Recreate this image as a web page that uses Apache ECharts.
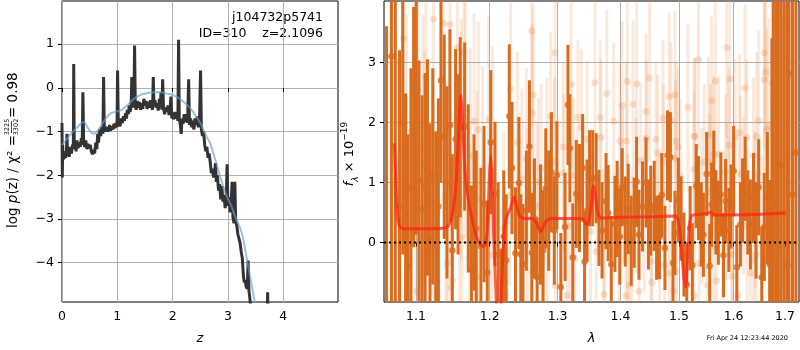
<!DOCTYPE html>
<html>
<head>
<meta charset="utf-8">
<script src="https://cdn.jsdelivr.net/npm/echarts@6/dist/echarts.min.js"></script>
<style>
  html, body { margin: 0; padding: 0; background: #fff; }
  #chart { width: 800px; height: 350px; }
</style>
</head>
<body>
<div id="chart"></div>
<script>
// ---- left panel: log p(z) ----
const pzCurve = [
  [0.000,-0.80],[0.006,-2.05],[0.012,-1.30],[0.020,-1.65],[0.030,-1.45],[0.040,-1.62],[0.050,-1.50],[0.065,-1.60],
  [0.080,-1.45],[0.090,-1.05],[0.100,-1.55],[0.115,-1.40],[0.130,-1.58],[0.150,-1.35],[0.170,-1.50],[0.190,-1.30],
  [0.205,-1.40],[0.212,0.55],[0.222,-1.35],[0.240,-1.25],[0.255,-1.45],[0.270,-1.20],[0.290,-1.38],[0.310,-1.25],
  [0.330,-1.35],[0.350,-1.15],[0.365,-1.30],[0.378,-0.10],[0.392,-1.25],[0.410,-1.35],[0.430,-1.20],[0.450,-1.40],
  [0.470,-1.28],[0.490,-1.38],[0.510,-1.30],[0.530,-1.45],[0.550,-1.52],[0.570,-1.42],[0.590,-1.50],[0.610,-1.25],
  [0.630,-1.40],[0.645,-1.05],[0.660,-1.25],[0.680,-0.95],[0.700,-1.10],[0.720,-0.90],[0.740,-1.05],[0.752,0.25],
  [0.765,-1.00],[0.785,-0.88],[0.800,-1.00],[0.820,-0.90],[0.840,-1.00],[0.860,-0.85],[0.880,-0.98],[0.900,-0.88],
  [0.920,-0.95],[0.940,-0.82],[0.960,-0.92],[0.980,-0.80],[0.995,-0.90],[1.005,0.40],[1.018,-0.85],[1.035,-0.78],
  [1.050,-0.88],[1.070,-0.70],[1.090,-0.80],[1.110,-0.65],[1.130,-0.75],[1.150,-0.58],[1.165,-0.70],[1.180,-0.50],
  [1.200,-0.60],[1.215,-0.40],[1.230,-0.55],[1.250,-0.42],[1.262,0.25],[1.275,-0.40],[1.290,-0.20],[1.300,-0.45],
  [1.312,0.97],[1.325,-0.35],[1.340,-0.50],[1.360,-0.30],[1.380,-0.45],[1.400,-0.32],[1.420,-0.50],[1.440,-0.35],
  [1.460,-0.48],[1.480,-0.25],[1.500,-0.40],[1.520,-0.30],[1.540,-0.48],[1.560,-0.32],[1.580,-0.45],[1.600,-0.28],
  [1.620,-0.42],[1.638,-0.50],[1.650,0.25],[1.662,-0.38],[1.680,-0.28],[1.700,-0.45],[1.720,-0.35],[1.740,-0.52],
  [1.760,-0.25],[1.775,-0.45],[1.790,-0.10],[1.805,-0.50],[1.820,0.20],[1.835,-0.45],[1.855,-0.60],[1.875,-0.45],
  [1.895,-0.55],[1.915,-0.40],[1.935,-0.62],[1.955,-0.50],[1.970,-0.20],[1.985,-0.70],[2.000,-0.58],[2.020,-0.72],
  [2.040,-0.55],[2.060,-0.70],[2.080,-0.60],[2.095,-0.75],[2.108,1.10],[2.120,-0.70],[2.140,-0.85],[2.155,-1.05],
  [2.170,-0.70],[2.190,-0.82],[2.210,-0.60],[2.230,-0.78],[2.250,-0.60],[2.270,-0.80],[2.290,0.20],[2.305,-0.85],
  [2.325,-0.70],[2.345,-0.90],[2.365,-0.75],[2.385,-0.95],[2.405,-0.70],[2.425,-0.85],[2.445,-0.65],[2.465,-0.90],
  [2.485,-0.80],[2.505,0.40],[2.520,-0.95],[2.540,-1.10],[2.560,-1.00],[2.580,-1.30],[2.600,-1.45],[2.620,-1.35],
  [2.640,-1.60],[2.660,-1.50],[2.680,-1.70],[2.700,-1.95],[2.720,-1.85],[2.740,-2.05],[2.760,-1.95],[2.775,-1.72],
  [2.790,-2.15],[2.810,-2.00],[2.830,-2.35],[2.850,-2.20],[2.870,-2.55],[2.890,-2.25],[2.910,-2.60],[2.930,-2.45],
  [2.950,-2.75],[2.970,-2.55],[2.985,-1.75],[3.000,-2.70],[3.020,-2.50],[3.040,-2.85],[3.060,-2.60],[3.075,-2.15],
  [3.090,-2.95],[3.110,-3.10],[3.125,-2.15],[3.140,-3.05],[3.160,-3.15],[3.180,-3.35],[3.200,-3.45],[3.220,-3.55],
  [3.240,-3.75],[3.260,-3.90],[3.280,-4.30],[3.295,-4.45],[3.310,-4.40],[3.330,-4.55],[3.350,-4.60],[3.365,-3.95],
  [3.380,-4.65],[3.395,-4.80],[3.410,-5.00],[3.500,null],[3.712,-5.00],[3.718,-4.68],[3.724,-5.00]
];
const pzSmooth = [
  [0,-1.31],[0.1,-1.15],[0.2,-1.0],[0.3,-0.87],[0.39,-0.78],[0.47,-0.92],[0.57,-1.05],[0.63,-1.0],[0.69,-0.89],
  [0.78,-0.72],[0.87,-0.59],[0.95,-0.55],[1.05,-0.52],[1.15,-0.43],[1.3,-0.25],[1.42,-0.16],[1.54,-0.12],
  [1.66,-0.1],[1.78,-0.1],[1.9,-0.13],[2.02,-0.17],[2.15,-0.27],[2.27,-0.4],[2.37,-0.55],[2.45,-0.7],
  [2.52,-0.85],[2.57,-1.0],[2.63,-1.15],[2.69,-1.31],[2.78,-1.68],[2.87,-2.07],[2.96,-2.42],[3.05,-2.67],
  [3.14,-2.97],[3.24,-3.28],[3.30,-3.62],[3.36,-4.04],[3.42,-4.45],[3.48,-4.87],[3.5,-5.0]
];
const zTicks = [0, 1, 2, 3, 4];
const pzTicks = [-4, -3, -2, -1, 0, 1];

// ---- right panel: spectrum (wavelength, flux, error) ----
const specMain = [
  [1.0625,-1.4,5.0],[1.0686,3.10,5.0],[1.0735,4.5,5.5],[1.0790,0.60,2.6],[1.0830,2.00,2.2],[1.0866,0.18,2.3],
  [1.0896,-0.40,2.2],[1.0935,0.90,2.0],[1.0970,1.92,2.0],[1.1004,2.33,2.2],[1.1039,1.03,2.0],[1.1080,0.55,1.9],
  [1.1119,0.92,1.9],[1.1150,1.25,1.8],[1.1184,0.08,1.9],[1.1220,1.10,1.8],[1.1260,-0.05,1.9],[1.1295,0.60,1.8],
  [1.1329,2.70,1.7],[1.1373,1.76,1.7],[1.1410,1.00,1.6],[1.1450,1.95,1.6],[1.1482,-0.13,1.6],[1.1526,1.72,1.5],
  [1.1560,1.30,1.5],[1.1590,1.92,1.5],[1.1650,1.93,1.4],[1.1700,0.90,1.4],[1.1744,-0.45,1.4],[1.1780,0.50,1.3],
  [1.1810,0.23,1.3],[1.1876,-0.06,1.3],[1.1920,0.64,1.3],[1.1965,-0.50,1.2],[1.2015,1.67,1.2],[1.2075,0.81,1.2],
  [1.2120,-0.20,1.2],[1.2160,-1.20,1.1],[1.2200,0.10,1.1],[1.2235,-0.30,1.1],[1.2280,2.10,1.2],[1.2320,1.24,1.1],
  [1.2370,-0.18,1.1],[1.2420,0.99,1.1],[1.2448,-0.20,1.0],[1.2480,-0.36,1.0],[1.2530,0.53,1.0],[1.2575,1.60,1.1],
  [1.2610,-0.17,1.0],[1.2650,0.40,1.0],[1.2690,-0.58,1.0],[1.2740,0.30,1.0],[1.2780,-0.13,1.0],[1.2820,0.90,1.0],
  [1.2865,0.53,1.0],[1.2905,1.17,1.0],[1.2950,0.20,0.9],[1.2990,1.12,0.9],[1.3050,-0.74,0.9],[1.3115,0.26,0.9],
  [1.3160,2.29,1.0],[1.3190,1.57,0.9],[1.3235,-0.25,0.9],[1.3290,0.81,0.9],[1.3340,0.74,0.9],[1.3390,1.24,0.9],
  [1.3420,-0.32,0.85],[1.3460,0.53,0.85],[1.3500,1.07,0.8],[1.3550,1.07,0.8],[1.3606,1.07,0.75],[1.3650,0.41,0.8],
  [1.3700,0.20,0.8],[1.3765,0.69,0.8],[1.3800,0.49,0.8],[1.3850,-0.36,0.8],[1.3910,0.31,0.8],[1.3946,0.56,0.8],
  [1.3990,0.10,0.8],[1.4030,0.92,0.65],[1.4080,0.35,0.75],[1.4130,0.56,0.75],[1.4180,0.03,0.75],[1.4230,0.33,0.75],
  [1.4270,1.01,0.75],[1.4310,0.13,0.75],[1.4370,0.60,0.75],[1.4430,1.00,0.75],[1.4470,0.30,0.75],[1.4510,0.53,0.75],
  [1.4570,0.61,0.75],[1.4610,0.08,0.7],[1.4660,0.09,0.7],[1.4700,0.79,0.7],[1.4755,-0.09,0.7],[1.4800,1.45,0.75],
  [1.4850,1.42,0.75],[1.4895,-0.34,0.7],[1.4930,0.16,0.7],[1.4990,0.71,0.7],[1.5040,0.40,0.7],[1.5090,-0.20,0.7],
  [1.5140,-0.70,0.7],[1.5200,0.24,0.7],[1.5240,-0.38,0.7],[1.5310,0.94,0.7],[1.5350,0.74,0.7],[1.5400,0.30,0.7],
  [1.5440,0.13,0.7],[1.5500,1.14,0.7],[1.5555,-0.39,0.7],[1.5590,0.63,0.7],[1.5630,1.16,0.7],[1.5670,0.50,0.7],
  [1.5715,0.33,0.7],[1.5760,0.80,0.7],[1.5810,-0.21,0.7],[1.5850,0.69,0.7],[1.5910,0.21,0.7],[1.5950,0.60,0.7],
  [1.6000,1.19,0.75],[1.6060,-0.41,0.7],[1.6130,0.30,0.7],[1.6170,0.70,0.7],[1.6220,1.06,0.7],[1.6270,0.50,0.7],
  [1.6320,0.30,0.75],[1.6380,0.74,0.75],[1.6430,0.20,0.8],[1.6480,0.92,0.8],[1.6540,-0.58,0.85],[1.6590,0.26,0.9],
  [1.6650,0.74,1.1],[1.6695,-0.36,1.4],[1.6740,0.60,2.8],[1.6767,0.98,4.0],[1.6820,2.49,5.0],[1.6865,-0.07,5.0],
  [1.6920,1.29,5.0],[1.6980,0.50,5.0],[1.7050,-0.38,5.0],[1.7080,2.81,5.0],[1.7150,0.80,5.5],[1.7220,1.50,5.5]
];
const specOther = [
  [1.0772,0.76,2.4],[1.0785,0.40,2.6],[1.0835,3.40,2.5],[1.0876,1.49,2.3],[1.0910,-0.31,2.2],[1.0970,2.55,2.2],
  [1.1004,-0.81,2.0],[1.1026,2.53,2.1],[1.1056,0.07,2.0],[1.1090,1.60,2.2],[1.1114,1.29,1.9],[1.1130,2.75,2.0],
  [1.1156,-0.21,2.1],[1.1230,3.72,2.2],[1.1235,0.71,1.9],[1.1360,3.65,2.2],[1.1394,0.78,1.9],[1.1415,-0.35,2.0],
  [1.1450,3.63,2.1],[1.1460,-0.75,1.9],[1.1480,-0.63,2.0],[1.1550,3.24,2.0],[1.1580,0.73,1.9],[1.1605,1.72,2.0],
  [1.1610,0.08,1.9],[1.1640,3.16,2.1],[1.1660,2.08,2.0],[1.1720,-0.25,1.9],[1.1730,1.44,1.8],[1.1780,2.02,1.8],
  [1.1820,0.73,1.8],[1.1830,-0.57,1.8],[1.1840,1.88,1.8],[1.1900,1.24,1.7],[1.1985,2.05,1.7],[1.2026,-0.21,1.6],
  [1.2040,1.67,1.6],[1.2200,0.23,1.6],[1.2215,-0.64,1.6],[1.2230,-0.86,1.5],[1.2287,0.78,1.5],[1.2300,2.55,1.6],
  [1.2400,1.67,1.5],[1.2465,1.06,1.5],[1.2530,1.40,1.5],[1.2545,0.40,1.5],[1.2610,3.52,1.6],[1.2615,2.15,1.5],
  [1.2620,-0.48,1.4],[1.2630,2.46,1.5],[1.2690,0.61,1.4],[1.2710,1.01,1.4],[1.2750,1.24,1.4],[1.2760,-0.25,1.4],
  [1.2840,1.34,1.4],[1.2845,0.25,1.4],[1.2895,2.10,1.4],[1.2955,1.34,1.4],[1.2960,3.16,1.5],[1.2965,-0.71,1.4],
  [1.3085,1.59,1.4],[1.3095,1.16,1.3],[1.3145,-0.88,1.3],[1.3190,0.28,1.3],[1.3210,2.63,1.4],[1.3245,1.11,1.3],
  [1.3265,-0.26,1.3],[1.3315,2.08,1.3],[1.3370,1.92,1.3],[1.3460,1.72,1.3],[1.3515,0.18,1.3],[1.3584,2.66,1.4],
  [1.3606,-0.15,1.3],[1.3670,2.08,1.3],[1.3680,1.75,1.3],[1.3730,-0.07,1.3],[1.3735,-0.86,1.3],[1.3776,2.48,1.4],
  [1.3890,2.02,1.3],[1.3975,-0.07,1.3],[1.3990,1.69,1.3],[1.4029,2.28,1.4],[1.4035,0.94,1.3],[1.4090,-0.88,1.3],
  [1.4100,1.69,1.3],[1.4115,2.68,1.4],[1.4118,0.18,1.3],[1.4150,-0.71,1.3],[1.4190,-0.18,1.3],[1.4210,2.30,1.4],
  [1.4260,0.78,1.3],[1.4270,2.64,1.4],[1.4310,-0.81,1.3],[1.4340,1.37,1.3],[1.4400,0.48,1.3],[1.4430,2.18,1.3],
  [1.4435,1.73,1.3],[1.4490,2.74,1.4],[1.4520,-0.31,1.3],[1.4525,-0.66,1.3],[1.4600,1.72,1.3],[1.4630,1.49,1.3],
  [1.4660,0.15,1.3],[1.4720,2.07,1.3],[1.4725,1.34,1.3],[1.4750,-0.38,1.3],[1.4830,2.43,1.4],[1.4835,-0.51,1.3],
  [1.4860,2.03,1.3],[1.4910,-0.81,1.3],[1.4930,2.46,1.4],[1.4940,1.40,1.3],[1.4955,1.69,1.3],[1.4958,-0.48,1.3],
  [1.4990,1.59,1.3],[1.5025,1.11,1.3],[1.5160,2.25,1.4],[1.5270,1.22,1.3],[1.5272,-0.88,1.3],[1.5275,1.77,1.3],
  [1.5290,1.77,1.3],[1.5350,3.04,1.5],[1.5360,-0.35,1.3],[1.5410,0.60,1.3],[1.5455,1.34,1.3],[1.5515,-0.71,1.3],
  [1.5530,1.79,1.3],[1.5555,0.84,1.3],[1.5570,1.34,1.3],[1.5590,2.36,1.4],[1.5630,1.47,1.3],[1.5632,-0.05,1.3],
  [1.5660,2.69,1.4],[1.5680,-0.64,1.3],[1.5720,1.47,1.3],[1.5800,0.23,1.3],[1.5850,1.17,1.3],[1.5870,3.24,1.5],
  [1.5875,0.68,1.3],[1.5910,1.62,1.3],[1.5930,2.72,1.4],[1.5970,-0.20,1.3],[1.5972,-0.56,1.3],[1.6030,1.75,1.3],
  [1.6080,-0.88,1.3],[1.6110,1.83,1.3],[1.6130,1.14,1.3],[1.6190,0.78,1.3],[1.6220,2.57,1.4],[1.6250,1.75,1.3],
  [1.6252,0.28,1.3],[1.6320,-0.51,1.3],[1.6380,1.45,1.3],[1.6382,-0.30,1.3],[1.6410,0.55,1.3],[1.6430,-0.20,1.4],
  [1.6440,1.77,1.4],[1.6480,2.03,1.5],[1.6540,-0.05,1.5],[1.6590,3.16,1.6],[1.6592,2.71,1.6],[1.6620,2.84,1.7],
  [1.6635,1.88,1.7],[1.6680,1.93,1.8],[1.6745,2.66,2.0],[1.6770,0.68,2.1],[1.6865,0.23,2.2],[1.6936,1.49,2.3],
  [1.7010,3.65,2.5]
];
const modelFit = [
  [1.0723,1.65],[1.0745,0.9],[1.0765,0.45],[1.079,0.27],[1.083,0.23],[1.10,0.23],[1.12,0.23],[1.138,0.24],
  [1.143,0.28],[1.147,0.40],[1.150,0.60],[1.153,0.95],[1.156,1.6],[1.1585,2.3],[1.1600,2.45],[1.1615,2.2],
  [1.164,1.5],[1.167,1.0],[1.171,0.65],[1.175,0.40],[1.180,0.15],[1.185,0.0],[1.190,-0.06],[1.194,-0.04],
  [1.197,0.30],[1.1995,1.10],[1.2015,1.45],[1.2035,1.0],[1.206,0.0],[1.209,-0.9],[1.212,-1.5],[1.2155,-1.2],
  [1.218,-0.4],[1.221,0.25],[1.225,0.45],[1.229,0.55],[1.235,0.76],[1.239,0.60],[1.243,0.44],[1.25,0.40],
  [1.262,0.40],[1.268,0.32],[1.272,0.22],[1.2745,0.18],[1.278,0.26],[1.283,0.36],[1.29,0.40],[1.33,0.40],
  [1.340,0.39],[1.345,0.30],[1.348,0.32],[1.352,0.55],[1.356,0.95],[1.3585,0.85],[1.362,0.55],[1.366,0.42],
  [1.37,0.41],[1.40,0.42],[1.45,0.43],[1.495,0.44],[1.499,0.35],[1.503,0.10],[1.507,-0.40],[1.511,-0.74],
  [1.5135,-0.60],[1.516,-0.10],[1.519,0.30],[1.523,0.45],[1.54,0.47],[1.553,0.49],[1.557,0.51],[1.561,0.46],
  [1.60,0.46],[1.65,0.47],[1.70,0.49]
];
const lamRange = [1.0593, 1.7283];
const lamTicks = [1.1, 1.2, 1.3, 1.4, 1.5, 1.6, 1.7];
const fluxTicks = [0, 1, 2, 3];

const chart = echarts.init(document.getElementById('chart'));

// wavelength axis is logarithmic
const lg = v => Math.log10(v);
const minus = v => (v < 0 ? '\u2212' + Math.abs(v) : String(v));

// vertical error bar, value +- error, read back from the source rows
function errBar(rows, color, width) {
  return function (params, api) {
    const r = rows[params.dataIndex];
    const a = api.coord([lg(r[0]), r[1] - r[2]]);
    const b = api.coord([lg(r[0]), r[1] + r[2]]);
    return {
      type: 'line',
      shape: { x1: a[0], y1: a[1], x2: b[0], y2: b[1] },
      style: { stroke: color, lineWidth: width }
    };
  };
}

const tickFont = { fontFamily: 'DejaVu Sans', fontSize: 12.5, color: '#000' };
function axisBase(ticks) {
  return {
    axisLine: { show: false },
    axisTick: { show: true, length: 4, customValues: ticks, lineStyle: { color: '#000' } },
    axisLabel: Object.assign({ customValues: ticks, margin: 8 }, tickFont),
    splitLine: { show: true, lineStyle: { color: '#b0b0b0', width: 1 } }
  };
}

const mainOrange = '#d96b1e';
const paleOrange = 'rgba(236,145,80,0.2)';

const option = {
  animation: false,
  grid: [
    { left: 62, top: 1, width: 276, height: 303, show: true, borderColor: '#000', borderWidth: 1 },
    { left: 384, top: 1, width: 415, height: 303, show: true, borderColor: '#000', borderWidth: 1 }
  ],
  xAxis: [
    Object.assign(axisBase(zTicks), {
      gridIndex: 0, type: 'value', min: 0, max: 4.99,
      name: 'z', nameLocation: 'middle', nameGap: 30,
      nameTextStyle: { fontFamily: 'DejaVu Sans', fontSize: 13, fontStyle: 'italic', color: '#000' }
    }),
    (function () {
      const ax = Object.assign(axisBase(lamTicks.map(lg)), {
        gridIndex: 1, type: 'value', min: lg(lamRange[0]), max: lg(lamRange[1]),
        name: '\u03bb', nameLocation: 'middle', nameGap: 30,
        nameTextStyle: { fontFamily: 'DejaVu Sans', fontSize: 13, fontStyle: 'italic', color: '#000' }
      });
      ax.axisLabel.formatter = v => Math.pow(10, v).toFixed(1);
      return ax;
    })()
  ],
  yAxis: [
    (function () {
      const ax = Object.assign(axisBase(pzTicks), { gridIndex: 0, type: 'value', min: -4.9, max: 1.99 });
      ax.axisLabel.formatter = minus;
      return ax;
    })(),
    Object.assign(axisBase(fluxTicks), { gridIndex: 1, type: 'value', min: -0.99, max: 4.02 })
  ],
  graphic: [
    {
      type: 'text', right: 800 - 323, top: 11,
      style: { text: 'j104732p5741', fontFamily: 'DejaVu Sans', fontSize: 12.5, fill: '#000', textAlign: 'right' }
    },
    {
      type: 'text', right: 800 - 323, top: 27,
      style: { text: 'ID=310    z=2.1096', fontFamily: 'DejaVu Sans', fontSize: 12.5, fill: '#000', textAlign: 'right' }
    },
    {
      type: 'text', right: 12, top: 335,
      style: { text: 'Fri Apr 24 12:23:44 2020', fontFamily: 'DejaVu Sans', fontSize: 6.5, fill: '#000' }
    },
    {
      // rotated y label of the p(z) panel
      type: 'group', x: 13.5, y: 232, rotation: Math.PI / 2,
      children: [
        {
          type: 'text', x: 97, y: 0,
          style: {
            text: 'log {i|p}(z) / \u03c7\u00b2 =', fontFamily: 'DejaVu Sans', fontSize: 13.5, fill: '#000',
            align: 'right', verticalAlign: 'middle',
            rich: { i: { fontFamily: 'DejaVu Sans', fontSize: 13.5, fontStyle: 'italic' } }
          }
        },
        { type: 'text', x: 105, y: -3, style: { text: '3225', fontFamily: 'DejaVu Sans', fontSize: 6.5, fill: '#000', align: 'center', verticalAlign: 'bottom' } },
        { type: 'line', shape: { x1: 99, y1: -2, x2: 111, y2: -2 }, style: { stroke: '#000', lineWidth: 0.7 } },
        { type: 'text', x: 105, y: -1, style: { text: '3302', fontFamily: 'DejaVu Sans', fontSize: 6.5, fill: '#000', align: 'center', verticalAlign: 'top' } },
        {
          type: 'text', x: 114, y: 0,
          style: { text: '= 0.98', fontFamily: 'DejaVu Sans', fontSize: 13.5, fill: '#000', align: 'left', verticalAlign: 'middle' }
        }
      ]
    },
    {
      type: 'group', x: 350, y: 154, rotation: Math.PI / 2,
      children: [
        {
          type: 'text', x: 0, y: 0,
          style: {
            text: '{i|f}{sub|\u03bb} \u00d7 10{sup|\u221219}', fontFamily: 'DejaVu Sans', fontSize: 13, fill: '#000',
            align: 'center', verticalAlign: 'middle', lineHeight: 20,
            rich: {
              i: { fontFamily: 'DejaVu Sans', fontSize: 13, fontStyle: 'italic', lineHeight: 20 },
              sub: { fontFamily: 'DejaVu Sans', fontSize: 9, fontStyle: 'italic', verticalAlign: 'bottom', lineHeight: 20 },
              sup: { fontFamily: 'DejaVu Sans', fontSize: 9, verticalAlign: 'top', lineHeight: 20 }
            }
          }
        }
      ]
    }
  ],
  series: [
    {
      type: 'line', xAxisIndex: 0, yAxisIndex: 0, data: pzCurve, showSymbol: false,
      connectNulls: false, lineStyle: { color: '#333', width: 3 }, z: 3
    },
    {
      type: 'line', xAxisIndex: 0, yAxisIndex: 0, data: pzSmooth, showSymbol: false, smooth: true,
      lineStyle: { color: 'rgba(100,160,210,0.65)', width: 2 }, z: 4
    },
    {
      type: 'custom', xAxisIndex: 1, yAxisIndex: 1, clip: true, z: 2,
      data: specOther.map(d => [lg(d[0]), d[1]]),
      renderItem: errBar(specOther, paleOrange, 3)
    },
    {
      type: 'scatter', xAxisIndex: 1, yAxisIndex: 1, clip: true, z: 2,
      data: specOther.map(d => [lg(d[0]), d[1]]),
      symbolSize: 7, itemStyle: { color: 'rgba(232,140,70,0.32)' }
    },
    {
      type: 'custom', xAxisIndex: 1, yAxisIndex: 1, clip: true, z: 3,
      data: specMain.map(d => [lg(d[0]), d[1]]),
      renderItem: errBar(specMain, mainOrange, 3)
    },
    {
      type: 'scatter', xAxisIndex: 1, yAxisIndex: 1, clip: true, z: 3,
      data: specMain.map(d => [lg(d[0]), d[1]]),
      symbolSize: 6.5, itemStyle: { color: mainOrange }
    },
    {
      type: 'line', xAxisIndex: 1, yAxisIndex: 1, z: 5, showSymbol: false, smooth: 0.2,
      data: modelFit.map(d => [lg(d[0]), d[1]]),
      lineStyle: { color: 'rgba(255,30,20,0.7)', width: 3 }
    },
    {
      type: 'line', xAxisIndex: 1, yAxisIndex: 1, z: 6, showSymbol: false,
      data: [[lg(lamRange[0]), 0], [lg(lamRange[1]), 0]],
      lineStyle: { color: '#000', width: 2, type: [2, 3] }
    }
  ]
};

chart.setOption(option);
</script>
</body>
</html>
